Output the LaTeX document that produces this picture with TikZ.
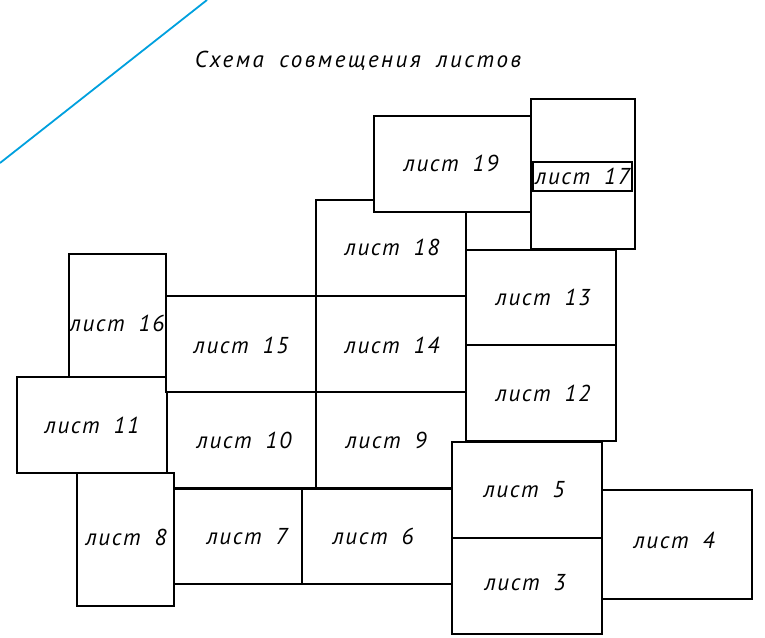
\documentclass[tikz,border=0pt]{standalone}
\usepackage{fontspec}
\newfontfamily\gostfont{PT Sans}[LetterSpace=7,WordSpace=1.8]
\newfontfamily\gosttitle{PT Sans}[LetterSpace=11,WordSpace=1.8]
\definecolor{cadblue}{RGB}{0,160,222}
\usepackage{tikz}
\usetikzlibrary{positioning}

\begin{document}
\begin{tikzpicture}[x=1pt,y=-1pt,
  sheet/.style={draw,fill=white,line width=1.3pt},
  lbl/.style={font=\gostfont\itshape\fontsize{23}{25}\selectfont,inner sep=1pt}]
\useasboundingbox (0,0) rectangle (765,637);
\draw[cadblue,line width=1.8pt] (0,163) -- (207,0);
\node[font=\gosttitle\itshape\fontsize{23}{25}\selectfont] (title) at (358,61) {Схема совмещения листов};
% sheets, lower ones first
\draw[sheet] (69,254) rectangle (166,392);
\draw[sheet] (17,377) rectangle (167,473);
\draw[sheet] (166,296) rectangle (316,392);
\draw[sheet] (167,392) rectangle (316,488);
\draw[sheet] (316,200) rectangle (466,296);
\draw[sheet] (374,116) rectangle (531,212);
\draw[sheet] (531,99) rectangle (635,249);
\draw[sheet] (466,250) rectangle (616,345);
\draw[sheet] (316,296) rectangle (466,392);
\draw[sheet] (466,345) rectangle (616,441);
\draw[sheet] (316,392) rectangle (466,488);
\draw[sheet] (452,442) rectangle (602,538);
\draw[sheet] (452,538) rectangle (602,634);
\draw[sheet] (602,490) rectangle (752,599);
\draw[sheet] (302,489) rectangle (452,584);
\draw[sheet] (174,489) rectangle (302,584);
\draw[sheet] (77,473) rectangle (174,606);
% labels
\node[lbl] (l19) at (451,163) {лист 19};
\node[lbl,draw,line width=1.3pt,minimum width=99pt,minimum height=29pt] (l17) at (582.5,176.5) {лист 17};
\node[lbl] (l18) at (392,247) {лист 18};
\node[lbl] (l13) at (543,297) {лист 13};
\node[lbl] (l16) at (117,323) {лист 16};
\node[lbl] (l15) at (241,345) {лист 15};
\node[lbl] (l14) at (392,345) {лист 14};
\node[lbl] (l11) at (92,425) {лист 11};
\node[lbl] (l10) at (244,440) {лист 10};
\node[lbl] (l9) at (386,440) {лист 9};
\node[lbl] (l12) at (543,393) {лист 12};
\node[lbl] (l5) at (524,490) {лист 5};
\node[lbl] (l8) at (126,537) {лист 8};
\node[lbl] (l7) at (247,537) {лист 7};
\node[lbl] (l6) at (373,536) {лист 6};
\node[lbl] (l3) at (525,583) {лист 3};
\node[lbl] (l4) at (674,540) {лист 4};
\end{tikzpicture}
\end{document}
